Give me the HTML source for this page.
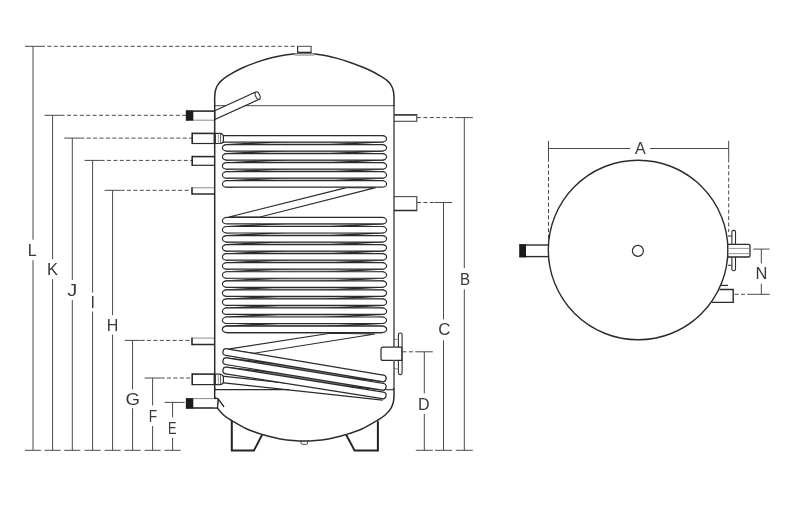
<!DOCTYPE html>
<html><head><meta charset="utf-8"><title>Tank dimensions</title>
<style>
html,body{margin:0;padding:0;background:#fff;}
body{width:790px;height:510px;overflow:hidden;}
svg{display:block;will-change:transform;}
.lb{font-family:"Liberation Sans",sans-serif;font-size:16px;fill:#3a3736;text-anchor:middle;}
</style></head><body>
<svg width="790" height="510" viewBox="0 0 790 510">
<defs><filter id="soft" x="0" y="0" width="790" height="510" filterUnits="userSpaceOnUse"><feGaussianBlur stdDeviation="0.35"/></filter></defs>
<rect width="790" height="510" fill="#fff"/>
<g filter="url(#soft)">
<line x1="33" y1="46.3" x2="33" y2="239.7" stroke="#4c4847" stroke-width="1" />
<line x1="33" y1="260.2" x2="33" y2="450.3" stroke="#4c4847" stroke-width="1" />
<line x1="25" y1="450.3" x2="41" y2="450.3" stroke="#4c4847" stroke-width="1" />
<line x1="25" y1="46.3" x2="41" y2="46.3" stroke="#4c4847" stroke-width="1" />
<line x1="41" y1="46.3" x2="297" y2="46.3" stroke="#4c4847" stroke-width="1" stroke-dasharray="4 2.4"/>
<text transform="translate(32.3,256.4) scale(1,1)" class="lb">L</text>
<line x1="52.6" y1="115.3" x2="52.6" y2="259.1" stroke="#4c4847" stroke-width="1" />
<line x1="52.6" y1="279.2" x2="52.6" y2="450.3" stroke="#4c4847" stroke-width="1" />
<line x1="44.6" y1="450.3" x2="60.6" y2="450.3" stroke="#4c4847" stroke-width="1" />
<line x1="44.6" y1="115.3" x2="60.6" y2="115.3" stroke="#4c4847" stroke-width="1" />
<line x1="60.6" y1="115.3" x2="186" y2="115.3" stroke="#4c4847" stroke-width="1" stroke-dasharray="4 2.4"/>
<text transform="translate(52.6,274.9) scale(1.03,1)" class="lb">K</text>
<line x1="72.3" y1="138.1" x2="72.3" y2="280" stroke="#4c4847" stroke-width="1" />
<line x1="72.3" y1="300.1" x2="72.3" y2="450.3" stroke="#4c4847" stroke-width="1" />
<line x1="64.3" y1="450.3" x2="80.3" y2="450.3" stroke="#4c4847" stroke-width="1" />
<line x1="64.3" y1="138.1" x2="80.3" y2="138.1" stroke="#4c4847" stroke-width="1" />
<line x1="80.3" y1="138.1" x2="192" y2="138.1" stroke="#4c4847" stroke-width="1" stroke-dasharray="4 2.4"/>
<text transform="translate(72.3,296.4) scale(1.25,1)" class="lb">J</text>
<line x1="92.6" y1="160.4" x2="92.6" y2="292.6" stroke="#4c4847" stroke-width="1" />
<line x1="92.6" y1="311.5" x2="92.6" y2="450.3" stroke="#4c4847" stroke-width="1" />
<line x1="84.6" y1="450.3" x2="100.6" y2="450.3" stroke="#4c4847" stroke-width="1" />
<line x1="84.6" y1="160.4" x2="100.6" y2="160.4" stroke="#4c4847" stroke-width="1" />
<line x1="100.6" y1="160.4" x2="192" y2="160.4" stroke="#4c4847" stroke-width="1" stroke-dasharray="4 2.4"/>
<text transform="translate(92.6,308.4) scale(1,1)" class="lb">I</text>
<line x1="112.6" y1="190.3" x2="112.6" y2="315.2" stroke="#4c4847" stroke-width="1" />
<line x1="112.6" y1="334.6" x2="112.6" y2="450.3" stroke="#4c4847" stroke-width="1" />
<line x1="104.6" y1="450.3" x2="120.6" y2="450.3" stroke="#4c4847" stroke-width="1" />
<line x1="104.6" y1="190.3" x2="120.6" y2="190.3" stroke="#4c4847" stroke-width="1" />
<line x1="120.6" y1="190.3" x2="192" y2="190.3" stroke="#4c4847" stroke-width="1" stroke-dasharray="4 2.4"/>
<text transform="translate(112.6,331.0) scale(1,1)" class="lb">H</text>
<line x1="132.6" y1="340.4" x2="132.6" y2="389.3" stroke="#4c4847" stroke-width="1" />
<line x1="132.6" y1="408.2" x2="132.6" y2="450.3" stroke="#4c4847" stroke-width="1" />
<line x1="124.6" y1="450.3" x2="140.6" y2="450.3" stroke="#4c4847" stroke-width="1" />
<line x1="124.6" y1="340.4" x2="140.6" y2="340.4" stroke="#4c4847" stroke-width="1" />
<line x1="140.6" y1="340.4" x2="192" y2="340.4" stroke="#4c4847" stroke-width="1" stroke-dasharray="4 2.4"/>
<text transform="translate(132.6,404.7) scale(1.16,1)" class="lb">G</text>
<line x1="152.6" y1="378" x2="152.6" y2="405.5" stroke="#4c4847" stroke-width="1" />
<line x1="152.6" y1="426" x2="152.6" y2="450.3" stroke="#4c4847" stroke-width="1" />
<line x1="144.6" y1="450.3" x2="160.6" y2="450.3" stroke="#4c4847" stroke-width="1" />
<line x1="144.6" y1="378" x2="160.6" y2="378" stroke="#4c4847" stroke-width="1" />
<line x1="160.6" y1="378" x2="192" y2="378" stroke="#4c4847" stroke-width="1" stroke-dasharray="4 2.4"/>
<text transform="translate(153.0,422.3) scale(0.86,1)" class="lb">F</text>
<line x1="172.6" y1="402.4" x2="172.6" y2="417.4" stroke="#4c4847" stroke-width="1" />
<line x1="172.6" y1="437.9" x2="172.6" y2="450.3" stroke="#4c4847" stroke-width="1" />
<line x1="164.6" y1="450.3" x2="180.6" y2="450.3" stroke="#4c4847" stroke-width="1" />
<line x1="164.6" y1="402.4" x2="180.6" y2="402.4" stroke="#4c4847" stroke-width="1" />
<line x1="180.6" y1="402.4" x2="186.5" y2="402.4" stroke="#4c4847" stroke-width="1" stroke-dasharray="4 2.4"/>
<text transform="translate(172.2,433.59999999999997) scale(0.8,1)" class="lb">E</text>
<line x1="464.3" y1="117.6" x2="464.3" y2="268" stroke="#4c4847" stroke-width="1" />
<line x1="464.3" y1="289.4" x2="464.3" y2="450.3" stroke="#4c4847" stroke-width="1" />
<line x1="455.8" y1="450.3" x2="472.8" y2="450.3" stroke="#4c4847" stroke-width="1" />
<line x1="455.3" y1="117.6" x2="472.8" y2="117.6" stroke="#4c4847" stroke-width="1" />
<line x1="417" y1="117.6" x2="455.3" y2="117.6" stroke="#4c4847" stroke-width="1" stroke-dasharray="4 2.4"/>
<text transform="translate(465.1,284.59999999999997) scale(0.95,1)" class="lb">B</text>
<line x1="443.5" y1="202.5" x2="443.5" y2="319.4" stroke="#4c4847" stroke-width="1" />
<line x1="443.5" y1="340.3" x2="443.5" y2="450.3" stroke="#4c4847" stroke-width="1" />
<line x1="435.0" y1="450.3" x2="452.0" y2="450.3" stroke="#4c4847" stroke-width="1" />
<line x1="434.5" y1="202.5" x2="452.0" y2="202.5" stroke="#4c4847" stroke-width="1" />
<line x1="417" y1="202.5" x2="434.5" y2="202.5" stroke="#4c4847" stroke-width="1" stroke-dasharray="4 2.4"/>
<text transform="translate(444.3,335.2) scale(1.06,1)" class="lb">C</text>
<line x1="424.3" y1="351.8" x2="424.3" y2="393.4" stroke="#4c4847" stroke-width="1" />
<line x1="424.3" y1="414" x2="424.3" y2="450.3" stroke="#4c4847" stroke-width="1" />
<line x1="415.8" y1="450.3" x2="432.8" y2="450.3" stroke="#4c4847" stroke-width="1" />
<line x1="415.3" y1="351.8" x2="432.8" y2="351.8" stroke="#4c4847" stroke-width="1" />
<line x1="402.5" y1="351.8" x2="415.3" y2="351.8" stroke="#4c4847" stroke-width="1" stroke-dasharray="4 2.4"/>
<text transform="translate(423.8,410.2) scale(1,1)" class="lb">D</text>
<line x1="382.15000000000003" y1="138.8" x2="226.85" y2="147.83" stroke="#2e2b2a" stroke-width="7.5" stroke-linecap="round"/>
<line x1="382.15000000000003" y1="138.8" x2="226.85" y2="147.83" stroke="#c4c4c4" stroke-width="4.5" stroke-linecap="round"/>
<line x1="382.15000000000003" y1="147.83" x2="226.85" y2="156.86" stroke="#2e2b2a" stroke-width="7.5" stroke-linecap="round"/>
<line x1="382.15000000000003" y1="147.83" x2="226.85" y2="156.86" stroke="#c4c4c4" stroke-width="4.5" stroke-linecap="round"/>
<line x1="382.15000000000003" y1="156.86" x2="226.85" y2="165.89000000000001" stroke="#2e2b2a" stroke-width="7.5" stroke-linecap="round"/>
<line x1="382.15000000000003" y1="156.86" x2="226.85" y2="165.89000000000001" stroke="#c4c4c4" stroke-width="4.5" stroke-linecap="round"/>
<line x1="382.15000000000003" y1="165.89000000000001" x2="226.85" y2="174.92000000000002" stroke="#2e2b2a" stroke-width="7.5" stroke-linecap="round"/>
<line x1="382.15000000000003" y1="165.89000000000001" x2="226.85" y2="174.92000000000002" stroke="#c4c4c4" stroke-width="4.5" stroke-linecap="round"/>
<line x1="382.15000000000003" y1="174.92000000000002" x2="226.85" y2="183.95000000000002" stroke="#2e2b2a" stroke-width="7.5" stroke-linecap="round"/>
<line x1="382.15000000000003" y1="174.92000000000002" x2="226.85" y2="183.95000000000002" stroke="#c4c4c4" stroke-width="4.5" stroke-linecap="round"/>
<line x1="382.15000000000003" y1="220.7" x2="226.85" y2="229.75" stroke="#2e2b2a" stroke-width="7.5" stroke-linecap="round"/>
<line x1="382.15000000000003" y1="220.7" x2="226.85" y2="229.75" stroke="#c4c4c4" stroke-width="4.5" stroke-linecap="round"/>
<line x1="382.15000000000003" y1="229.75" x2="226.85" y2="238.79999999999998" stroke="#2e2b2a" stroke-width="7.5" stroke-linecap="round"/>
<line x1="382.15000000000003" y1="229.75" x2="226.85" y2="238.79999999999998" stroke="#c4c4c4" stroke-width="4.5" stroke-linecap="round"/>
<line x1="382.15000000000003" y1="238.79999999999998" x2="226.85" y2="247.85" stroke="#2e2b2a" stroke-width="7.5" stroke-linecap="round"/>
<line x1="382.15000000000003" y1="238.79999999999998" x2="226.85" y2="247.85" stroke="#c4c4c4" stroke-width="4.5" stroke-linecap="round"/>
<line x1="382.15000000000003" y1="247.85" x2="226.85" y2="256.9" stroke="#2e2b2a" stroke-width="7.5" stroke-linecap="round"/>
<line x1="382.15000000000003" y1="247.85" x2="226.85" y2="256.9" stroke="#c4c4c4" stroke-width="4.5" stroke-linecap="round"/>
<line x1="382.15000000000003" y1="256.9" x2="226.85" y2="265.95" stroke="#2e2b2a" stroke-width="7.5" stroke-linecap="round"/>
<line x1="382.15000000000003" y1="256.9" x2="226.85" y2="265.95" stroke="#c4c4c4" stroke-width="4.5" stroke-linecap="round"/>
<line x1="382.15000000000003" y1="265.95" x2="226.85" y2="275.0" stroke="#2e2b2a" stroke-width="7.5" stroke-linecap="round"/>
<line x1="382.15000000000003" y1="265.95" x2="226.85" y2="275.0" stroke="#c4c4c4" stroke-width="4.5" stroke-linecap="round"/>
<line x1="382.15000000000003" y1="275.0" x2="226.85" y2="284.05" stroke="#2e2b2a" stroke-width="7.5" stroke-linecap="round"/>
<line x1="382.15000000000003" y1="275.0" x2="226.85" y2="284.05" stroke="#c4c4c4" stroke-width="4.5" stroke-linecap="round"/>
<line x1="382.15000000000003" y1="284.05" x2="226.85" y2="293.1" stroke="#2e2b2a" stroke-width="7.5" stroke-linecap="round"/>
<line x1="382.15000000000003" y1="284.05" x2="226.85" y2="293.1" stroke="#c4c4c4" stroke-width="4.5" stroke-linecap="round"/>
<line x1="382.15000000000003" y1="293.1" x2="226.85" y2="302.15" stroke="#2e2b2a" stroke-width="7.5" stroke-linecap="round"/>
<line x1="382.15000000000003" y1="293.1" x2="226.85" y2="302.15" stroke="#c4c4c4" stroke-width="4.5" stroke-linecap="round"/>
<line x1="382.15000000000003" y1="302.15" x2="226.85" y2="311.2" stroke="#2e2b2a" stroke-width="7.5" stroke-linecap="round"/>
<line x1="382.15000000000003" y1="302.15" x2="226.85" y2="311.2" stroke="#c4c4c4" stroke-width="4.5" stroke-linecap="round"/>
<line x1="382.15000000000003" y1="311.2" x2="226.85" y2="320.25" stroke="#2e2b2a" stroke-width="7.5" stroke-linecap="round"/>
<line x1="382.15000000000003" y1="311.2" x2="226.85" y2="320.25" stroke="#c4c4c4" stroke-width="4.5" stroke-linecap="round"/>
<line x1="382.15000000000003" y1="320.25" x2="226.85" y2="329.3" stroke="#2e2b2a" stroke-width="7.5" stroke-linecap="round"/>
<line x1="382.15000000000003" y1="320.25" x2="226.85" y2="329.3" stroke="#c4c4c4" stroke-width="4.5" stroke-linecap="round"/>
<path d="M346.4,187.6 L229,217 L260,217 L375.7,187.6 Z" stroke="#2e2b2a" stroke-width="1.1" fill="#fff" />
<rect x="218" y="135.55" width="168.60000000000002" height="6.5" rx="4.6" ry="3.25" fill="#fff" stroke="#2e2b2a" stroke-width="1.2"/>
<rect x="222.4" y="144.58" width="164.20000000000002" height="6.5" rx="4.6" ry="3.25" fill="#fff" stroke="#2e2b2a" stroke-width="1.2"/>
<rect x="222.4" y="153.61" width="164.20000000000002" height="6.5" rx="4.6" ry="3.25" fill="#fff" stroke="#2e2b2a" stroke-width="1.2"/>
<rect x="222.4" y="162.64000000000001" width="164.20000000000002" height="6.5" rx="4.6" ry="3.25" fill="#fff" stroke="#2e2b2a" stroke-width="1.2"/>
<rect x="222.4" y="171.67000000000002" width="164.20000000000002" height="6.5" rx="4.6" ry="3.25" fill="#fff" stroke="#2e2b2a" stroke-width="1.2"/>
<rect x="222.4" y="180.70000000000002" width="164.20000000000002" height="6.5" rx="4.6" ry="3.25" fill="#fff" stroke="#2e2b2a" stroke-width="1.2"/>
<rect x="222.4" y="217.45" width="164.20000000000002" height="6.5" rx="4.6" ry="3.25" fill="#fff" stroke="#2e2b2a" stroke-width="1.2"/>
<rect x="222.4" y="226.5" width="164.20000000000002" height="6.5" rx="4.6" ry="3.25" fill="#fff" stroke="#2e2b2a" stroke-width="1.2"/>
<rect x="222.4" y="235.54999999999998" width="164.20000000000002" height="6.5" rx="4.6" ry="3.25" fill="#fff" stroke="#2e2b2a" stroke-width="1.2"/>
<rect x="222.4" y="244.6" width="164.20000000000002" height="6.5" rx="4.6" ry="3.25" fill="#fff" stroke="#2e2b2a" stroke-width="1.2"/>
<rect x="222.4" y="253.64999999999998" width="164.20000000000002" height="6.5" rx="4.6" ry="3.25" fill="#fff" stroke="#2e2b2a" stroke-width="1.2"/>
<rect x="222.4" y="262.7" width="164.20000000000002" height="6.5" rx="4.6" ry="3.25" fill="#fff" stroke="#2e2b2a" stroke-width="1.2"/>
<rect x="222.4" y="271.75" width="164.20000000000002" height="6.5" rx="4.6" ry="3.25" fill="#fff" stroke="#2e2b2a" stroke-width="1.2"/>
<rect x="222.4" y="280.8" width="164.20000000000002" height="6.5" rx="4.6" ry="3.25" fill="#fff" stroke="#2e2b2a" stroke-width="1.2"/>
<rect x="222.4" y="289.85" width="164.20000000000002" height="6.5" rx="4.6" ry="3.25" fill="#fff" stroke="#2e2b2a" stroke-width="1.2"/>
<rect x="222.4" y="298.9" width="164.20000000000002" height="6.5" rx="4.6" ry="3.25" fill="#fff" stroke="#2e2b2a" stroke-width="1.2"/>
<rect x="222.4" y="307.95" width="164.20000000000002" height="6.5" rx="4.6" ry="3.25" fill="#fff" stroke="#2e2b2a" stroke-width="1.2"/>
<rect x="222.4" y="317.0" width="164.20000000000002" height="6.5" rx="4.6" ry="3.25" fill="#fff" stroke="#2e2b2a" stroke-width="1.2"/>
<rect x="222.4" y="326.05" width="164.20000000000002" height="6.5" rx="4.6" ry="3.25" fill="#fff" stroke="#2e2b2a" stroke-width="1.2"/>
<path d="M330,333.2 L225,349.6 L254,353.3 L375,334 Z" stroke="#2e2b2a" stroke-width="1.1" fill="#fff" />
<line x1="222" y1="379.4" x2="383" y2="396.9" stroke="#2e2b2a" stroke-width="7.6" stroke-linecap="butt"/>
<line x1="222" y1="379.4" x2="383" y2="396.9" stroke="#fff" stroke-width="5.4" stroke-linecap="butt"/>
<line x1="382.55" y1="378.4" x2="226.45000000000002" y2="361.2" stroke="#2e2b2a" stroke-width="7.5" stroke-linecap="round"/>
<line x1="382.55" y1="378.4" x2="226.45000000000002" y2="361.2" stroke="#77736f" stroke-width="4.9" stroke-linecap="round"/>
<line x1="382.55" y1="386.8" x2="226.45000000000002" y2="370.5" stroke="#2e2b2a" stroke-width="7.5" stroke-linecap="round"/>
<line x1="382.55" y1="386.8" x2="226.45000000000002" y2="370.5" stroke="#77736f" stroke-width="4.9" stroke-linecap="round"/>
<line x1="226.25" y1="352.1" x2="382.75" y2="378.4" stroke="#2e2b2a" stroke-width="7.9" stroke-linecap="round"/>
<line x1="226.25" y1="352.1" x2="382.75" y2="378.4" stroke="#fff" stroke-width="5.5" stroke-linecap="round"/>
<line x1="226.25" y1="361.2" x2="382.75" y2="386.8" stroke="#2e2b2a" stroke-width="7.9" stroke-linecap="round"/>
<line x1="226.25" y1="361.2" x2="382.75" y2="386.8" stroke="#fff" stroke-width="5.5" stroke-linecap="round"/>
<line x1="226.25" y1="370.5" x2="382.75" y2="395.4" stroke="#2e2b2a" stroke-width="7.9" stroke-linecap="round"/>
<line x1="226.25" y1="370.5" x2="382.75" y2="395.4" stroke="#fff" stroke-width="5.5" stroke-linecap="round"/>
<rect x="222.4" y="326.05" width="164.20000000000002" height="6.5" rx="4.6" ry="3.25" fill="#fff" stroke="#2e2b2a" stroke-width="1.2"/>
<line x1="214.7" y1="105.7" x2="394.0" y2="105.7" stroke="#4c4847" stroke-width="1" />
<line x1="214.7" y1="389.7" x2="289" y2="389.7" stroke="#2e2b2a" stroke-width="1.3" />
<line x1="386" y1="389.7" x2="394.0" y2="389.7" stroke="#2e2b2a" stroke-width="1.1" />
<path d="M214.7,110.8 L255.2,92.3 L259.8,99 L214.7,119.6 Z" stroke="#2e2b2a" stroke-width="1.2" fill="#fff" />
<ellipse cx="257.6" cy="95.5" rx="2.1" ry="4.0" transform="rotate(-24 257.8 95.4)" fill="#fff" stroke="#2e2b2a" stroke-width="1"/>
<path d="M301,440.6 L301,443 Q301,444.3 302.3,444.3 L306.3,444.3 Q307.6,444.3 307.6,443 L307.6,440.6" stroke="#4c4847" stroke-width="1" fill="#fff" />
<path d="M231.8,420.6 L231.8,450.6 L253.9,450.6 L262.3,434.4" stroke="#262322" stroke-width="2" fill="none" />
<path d="M377.9,421.3 L377.9,450.6 L354.6,450.6 L346.2,434.7" stroke="#262322" stroke-width="2" fill="none" />
<rect x="186.6" y="111.1" width="28.099999999999994" height="9.100000000000009" fill="#fff"/>
<line x1="186.6" y1="111.1" x2="214.7" y2="111.1" stroke="#2e2b2a" stroke-width="1.6" />
<line x1="186.6" y1="120.2" x2="214.7" y2="120.2" stroke="#8d8a89" stroke-width="1" />
<line x1="186.6" y1="110.3" x2="186.6" y2="120.7" stroke="#2e2b2a" stroke-width="1.6" />
<rect x="186.29999999999998" y="110.69999999999999" width="7" height="9.90000000000001" fill="#1d1a19"/>
<rect x="192.2" y="133.4" width="22.5" height="10.099999999999994" fill="#fff"/>
<line x1="192.2" y1="133.4" x2="214.7" y2="133.4" stroke="#2e2b2a" stroke-width="1.6" />
<line x1="192.2" y1="143.5" x2="214.7" y2="143.5" stroke="#2e2b2a" stroke-width="1.2" />
<line x1="192.2" y1="132.6" x2="192.2" y2="144.1" stroke="#2e2b2a" stroke-width="1.6" />
<rect x="192.2" y="156.6" width="22.5" height="8.700000000000017" fill="#fff"/>
<line x1="192.2" y1="156.6" x2="214.7" y2="156.6" stroke="#2e2b2a" stroke-width="1.6" />
<line x1="192.2" y1="165.3" x2="214.7" y2="165.3" stroke="#2e2b2a" stroke-width="1.2" />
<line x1="192.2" y1="155.79999999999998" x2="192.2" y2="165.9" stroke="#2e2b2a" stroke-width="1.6" />
<rect x="192" y="187.8" width="22.69999999999999" height="6.199999999999989" fill="#fff"/>
<line x1="192" y1="187.8" x2="214.7" y2="187.8" stroke="#8d8a89" stroke-width="1" />
<line x1="192" y1="194" x2="214.7" y2="194" stroke="#2e2b2a" stroke-width="1.5" />
<line x1="192" y1="187.3" x2="192" y2="194.75" stroke="#2e2b2a" stroke-width="1.6" />
<rect x="192" y="338.1" width="22.69999999999999" height="6.399999999999977" fill="#fff"/>
<line x1="192" y1="338.1" x2="214.7" y2="338.1" stroke="#8d8a89" stroke-width="1" />
<line x1="192" y1="344.5" x2="214.7" y2="344.5" stroke="#2e2b2a" stroke-width="1.5" />
<line x1="192" y1="337.6" x2="192" y2="345.25" stroke="#2e2b2a" stroke-width="1.6" />
<rect x="192.2" y="374.1" width="22.5" height="10.5" fill="#fff"/>
<line x1="192.2" y1="374.1" x2="214.7" y2="374.1" stroke="#2e2b2a" stroke-width="1.6" />
<line x1="192.2" y1="384.6" x2="214.7" y2="384.6" stroke="#2e2b2a" stroke-width="1.2" />
<line x1="192.2" y1="373.3" x2="192.2" y2="385.20000000000005" stroke="#2e2b2a" stroke-width="1.6" />
<rect x="186.6" y="398.6" width="30.900000000000006" height="9.399999999999977" fill="#fff"/>
<line x1="186.6" y1="398.6" x2="217.5" y2="398.6" stroke="#8d8a89" stroke-width="1" />
<line x1="186.6" y1="408" x2="217.5" y2="408" stroke="#2e2b2a" stroke-width="1.6" />
<line x1="186.6" y1="398.1" x2="186.6" y2="408.8" stroke="#2e2b2a" stroke-width="1.6" />
<rect x="186.29999999999998" y="398.20000000000005" width="7" height="10.199999999999978" fill="#1d1a19"/>
<path d="M214.7,397.5 L218.2,399 L224,406.8" stroke="#2e2b2a" stroke-width="1.1" fill="none" />
<path d="M218.2,399 L217.4,408.4" stroke="#2e2b2a" stroke-width="1.1" fill="none" />
<path d="M214.7,133.4 L220.2,133.4 Q222,133.4 223.4,135.6 L223.4,142 Q222,143.5 220.2,143.5 L214.7,143.5 Z" stroke="#2e2b2a" stroke-width="1.2" fill="#fff" />
<line x1="218.3" y1="133.4" x2="218.3" y2="143.5" stroke="#8d8a89" stroke-width="0.9" />
<line x1="220.6" y1="133.9" x2="220.6" y2="143.0" stroke="#4c4847" stroke-width="0.9" />
<path d="M214.7,374.1 L220.2,374.1 Q222,374.1 223.4,376.4 L223.4,382.6 Q222,384.6 220.2,384.6 L214.7,384.6 Z" stroke="#2e2b2a" stroke-width="1.2" fill="#fff" />
<line x1="218.3" y1="374.1" x2="218.3" y2="384.6" stroke="#8d8a89" stroke-width="0.9" />
<line x1="220.6" y1="374.6" x2="220.6" y2="384.1" stroke="#4c4847" stroke-width="0.9" />
<line x1="214.7" y1="133" x2="214.7" y2="144" stroke="#2e2b2a" stroke-width="2.2" />
<line x1="214.7" y1="374" x2="214.7" y2="385" stroke="#2e2b2a" stroke-width="2.2" />
<rect x="394.0" y="114.9" width="22.80000000000001" height="6.3999999999999915" fill="#fff"/>
<line x1="394.0" y1="114.9" x2="416.8" y2="114.9" stroke="#2e2b2a" stroke-width="1.6" />
<line x1="394.0" y1="121.3" x2="416.8" y2="121.3" stroke="#4c4847" stroke-width="1.1" />
<line x1="416.8" y1="114.10000000000001" x2="416.8" y2="121.85" stroke="#4c4847" stroke-width="1.2" />
<rect x="394.0" y="196.6" width="22.80000000000001" height="13.900000000000006" fill="#fff"/>
<line x1="394.0" y1="196.6" x2="416.8" y2="196.6" stroke="#4c4847" stroke-width="1.1" />
<line x1="394.0" y1="210.5" x2="416.8" y2="210.5" stroke="#2e2b2a" stroke-width="1.5" />
<line x1="416.8" y1="196.04999999999998" x2="416.8" y2="211.25" stroke="#4c4847" stroke-width="1.2" />
<rect x="398.4" y="333" width="3.7" height="41.6" rx="1.6" fill="#fff" stroke="#2e2b2a" stroke-width="1.1"/>
<path d="M394,339.3 L398.4,339.3 M394,368.8 L398.4,368.8" stroke="#8d8a89" stroke-width="1" fill="none" />
<path d="M401.8,347.2 L383,347.2 Q381,347.2 381,349.2 L381,358.4 Q381,360.4 383,360.4 L401.8,360.4 Z" stroke="#2e2b2a" stroke-width="1.2" fill="#fff" />
<line x1="394.0" y1="347" x2="394.0" y2="360.6" stroke="#fff" stroke-width="2" />
<path d="M214.70,106.00 C214.70,105.33 214.70,103.33 214.70,102.00 C214.70,100.67 214.62,99.67 214.70,98.00 C214.78,96.33 214.79,93.92 215.15,92.00 C215.51,90.08 215.98,88.23 216.85,86.50 C217.72,84.77 218.62,83.33 220.35,81.60 C222.08,79.87 223.80,78.28 227.25,76.10 C230.70,73.92 236.20,70.78 241.05,68.50 C245.90,66.22 251.27,64.18 256.35,62.40 C261.43,60.62 266.47,59.07 271.55,57.80 C276.63,56.53 281.38,55.50 286.85,54.80 C292.32,54.10 298.52,53.57 304.35,53.60 C310.18,53.63 316.38,54.20 321.85,55.00 C327.32,55.80 332.07,57.03 337.15,58.40 C342.23,59.77 347.27,61.38 352.35,63.20 C357.43,65.02 362.80,67.07 367.65,69.30 C372.50,71.53 378.00,74.55 381.45,76.60 C384.90,78.65 386.62,79.95 388.35,81.60 C390.08,83.25 390.98,84.77 391.85,86.50 C392.72,88.23 393.19,90.08 393.55,92.00 C393.91,93.92 393.93,96.33 394.00,98.00 C394.07,99.67 394.00,100.67 394.00,102.00 C394.00,103.33 394.00,105.33 394.00,106.00" stroke="#2e2b2a" stroke-width="1.5" fill="none" />
<path d="M214.70,388.00 C214.70,388.67 214.70,390.67 214.70,392.00 C214.70,393.33 214.59,394.33 214.70,396.00 C214.81,397.67 214.84,399.95 215.35,402.00 C215.86,404.05 216.33,406.10 217.75,408.30 C219.17,410.50 221.55,413.17 223.85,415.20 C226.15,417.23 227.72,418.20 231.55,420.50 C235.38,422.80 241.75,426.68 246.85,429.00 C251.95,431.32 256.57,432.75 262.15,434.40 C267.73,436.05 273.32,437.80 280.35,438.90 C287.38,440.00 296.35,441.00 304.35,441.00 C312.35,441.00 321.32,440.00 328.35,438.90 C335.38,437.80 340.97,436.05 346.55,434.40 C352.13,432.75 356.75,431.32 361.85,429.00 C366.95,426.68 373.32,422.80 377.15,420.50 C380.98,418.20 382.55,417.23 384.85,415.20 C387.15,413.17 389.53,410.50 390.95,408.30 C392.37,406.10 392.84,404.05 393.35,402.00 C393.86,399.95 393.89,397.67 394.00,396.00 C394.11,394.33 394.00,393.33 394.00,392.00 C394.00,390.67 394.00,388.67 394.00,388.00" stroke="#2e2b2a" stroke-width="1.5" fill="none" />
<line x1="214.70000000000002" y1="105" x2="214.70000000000002" y2="389" stroke="#2e2b2a" stroke-width="1.5" />
<line x1="394.0" y1="105" x2="394.0" y2="389" stroke="#2e2b2a" stroke-width="1.25" />
<path d="M294.8,53.6 L314.2,53.6 L314.2,55.1 L294.8,55.1 Z" fill="#efefef"/>
<line x1="294.8" y1="55.1" x2="314.2" y2="55.1" stroke="#777" stroke-width="0.9" />
<rect x="297.6" y="46.3" width="13.6" height="6.2" fill="#fff"/>
<line x1="297.1" y1="46.3" x2="311.6" y2="46.3" stroke="#4c4847" stroke-width="1" />
<line x1="297.6" y1="46.3" x2="297.6" y2="52.6" stroke="#2e2b2a" stroke-width="1.2" />
<line x1="311.1" y1="46.3" x2="311.1" y2="52.6" stroke="#4c4847" stroke-width="1.1" />
<line x1="297.2" y1="52.4" x2="311.5" y2="52.4" stroke="#2e2b2a" stroke-width="1.4" />
<path d="M213.4,399.2 L217.2,399.2 L217.2,407.2 L213.4,407.2 Z" fill="#fff"/>
<path d="M214.7,397.8 L218.2,399 L224,406.8" stroke="#2e2b2a" stroke-width="1.1" fill="none" />
<path d="M218.2,399 L217.5,408.2" stroke="#2e2b2a" stroke-width="1.1" fill="none" />
<line x1="394.0" y1="347.9" x2="394.0" y2="359.7" stroke="#fff" stroke-width="2.4" />
<circle cx="637.9" cy="250.9" r="5.5" fill="#fff" stroke="#2e2b2a" stroke-width="1.2"/>
<line x1="548.5" y1="148.5" x2="630.3" y2="148.5" stroke="#4c4847" stroke-width="1" />
<line x1="650" y1="148.5" x2="728.7" y2="148.5" stroke="#4c4847" stroke-width="1" />
<line x1="548.5" y1="140.8" x2="548.5" y2="157.8" stroke="#4c4847" stroke-width="1" />
<line x1="728.7" y1="140.8" x2="728.7" y2="158.5" stroke="#4c4847" stroke-width="1" />
<line x1="548.5" y1="157.8" x2="548.5" y2="246" stroke="#4c4847" stroke-width="1" stroke-dasharray="4 2.4"/>
<line x1="728.7" y1="158.5" x2="728.7" y2="232" stroke="#4c4847" stroke-width="1" stroke-dasharray="4 2.4"/>
<text transform="translate(640.4,153.5) scale(1,1)" class="lb">A</text>
<rect x="519.4" y="245" width="29.3" height="11.6" fill="#fff"/>
<line x1="519.4" y1="245" x2="548.6" y2="245" stroke="#2e2b2a" stroke-width="1.4" />
<line x1="519.4" y1="256.6" x2="548.6" y2="256.6" stroke="#2e2b2a" stroke-width="1.4" />
<rect x="519.2" y="244.3" width="6.8" height="13" fill="#1d1a19"/>
<circle cx="638.1" cy="250" r="89.8" fill="none" stroke="#2e2b2a" stroke-width="1.4"/>
<path d="M728,236 L732,236 M728,265.3 L732,265.3" stroke="#2e2b2a" stroke-width="1" fill="none" />
<rect x="731.9" y="230.4" width="3.6" height="40.4" rx="1.6" fill="#fff" stroke="#2e2b2a" stroke-width="1.1"/>
<path d="M727.8,244.4 L748.5,244.4 Q750,244.4 750,246 L750,255.4 Q750,257 748.5,257 L727.8,257 Z" stroke="#2e2b2a" stroke-width="1.3" fill="#fff" />
<line x1="728.5" y1="248.4" x2="749.5" y2="248.4" stroke="#8d8a89" stroke-width="0.9" />
<line x1="728.5" y1="253.6" x2="749.5" y2="253.6" stroke="#8d8a89" stroke-width="0.9" />
<path d="M719.4,289.5 L733.2,289.5 L733.2,302.4 L711.6,302.4" stroke="#2e2b2a" stroke-width="1.4" fill="none" />
<line x1="720.6" y1="285.4" x2="728" y2="285.4" stroke="#2e2b2a" stroke-width="1.2" />
<line x1="753.3" y1="249.1" x2="769.6" y2="249.1" stroke="#4c4847" stroke-width="1" />
<line x1="751" y1="294.3" x2="769.6" y2="294.3" stroke="#4c4847" stroke-width="1" />
<line x1="761.3" y1="249.1" x2="761.3" y2="263.4" stroke="#4c4847" stroke-width="1" />
<line x1="761.3" y1="283.7" x2="761.3" y2="294.3" stroke="#4c4847" stroke-width="1" />
<line x1="734.6" y1="294.3" x2="751" y2="294.3" stroke="#4c4847" stroke-width="1" stroke-dasharray="4 2.4"/>
<text transform="translate(761.4,279.3) scale(1.03,1)" class="lb">N</text>
</g>
</svg>
</body></html>
